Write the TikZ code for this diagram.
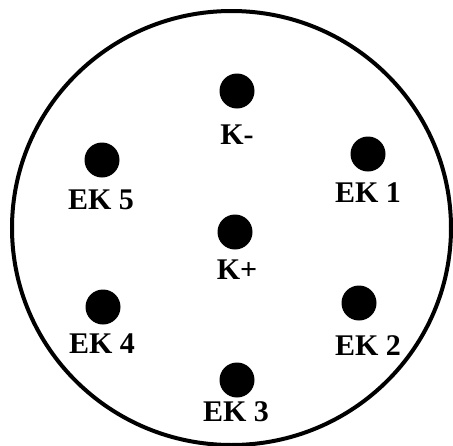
\documentclass[tikz,border=0pt]{standalone}
\usepackage{fontspec}
\setmainfont{Liberation Serif}
\begin{document}
\begin{tikzpicture}[x=1pt,y=-1pt,
  dot/.style={circle,fill=black,inner sep=0pt,minimum size=35pt},
  lbl/.style={font=\fontsize{30}{30}\selectfont\bfseries,inner sep=0pt,anchor=center}]
\useasboundingbox (0,0) rectangle (453,445);
\fill[white] (0,0) rectangle (453,445);
\draw[line width=4pt] (231.5,228) ellipse [x radius=219.5, y radius=217];
\node[dot] (km) at (237,91) {};
\node[dot] (ek5) at (102,160) {};
\node[dot] (ek1) at (368,154) {};
\node[dot] (kp) at (235,232) {};
\node[dot] (ek4) at (103,307) {};
\node[dot] (ek2) at (359,303) {};
\node[dot] (ek3) at (237,380) {};
\node[lbl] (lkm) at (237,135) {K-};
\node[lbl] (lek5) at (101,200) {EK 5};
\node[lbl] (lek1) at (368,193) {EK 1};
\node[lbl] (lkp) at (237,270) {K+};
\node[lbl] (lek4) at (102,344) {EK 4};
\node[lbl] (lek2) at (368,346) {EK 2};
\node[lbl] (lek3) at (236,412) {EK 3};
\end{tikzpicture}
\end{document}
